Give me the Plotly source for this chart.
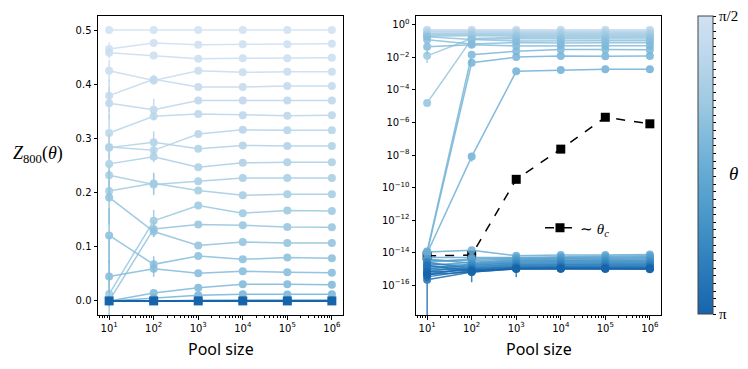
import numpy as np
import plotly.express as px
import plotly.graph_objects as go
from plotly.subplots import make_subplots
from plotly.colors import sample_colorscale

pool_sizes = [1e1, 1e2, 1e3, 1e4, 1e5, 1e6]
pool_labels = ["10<sup>1</sup>", "10<sup>2</sup>", "10<sup>3</sup>",
               "10<sup>4</sup>", "10<sup>5</sup>", "10<sup>6</sup>"]

n_theta = 40
theta = np.linspace(np.pi / 2, np.pi, n_theta)

# Z_800 for the 10 smallest angles
z_upper = [
    [0.500, 0.500, 0.500, 0.500, 0.500, 0.500],
    [0.465, 0.476, 0.473, 0.474, 0.474, 0.475],
    [0.458, 0.453, 0.447, 0.448, 0.448, 0.449],
    [0.425, 0.407, 0.425, 0.422, 0.423, 0.423],
    [0.379, 0.409, 0.395, 0.395, 0.397, 0.397],
    [0.365, 0.353, 0.370, 0.370, 0.370, 0.370],
    [0.310, 0.341, 0.345, 0.343, 0.342, 0.343],
    [0.284, 0.278, 0.308, 0.316, 0.315, 0.315],
    [0.283, 0.293, 0.281, 0.287, 0.286, 0.286],
    [0.253, 0.266, 0.247, 0.255, 0.256, 0.256],
]

# next 10 angles, still above theta_c
z_middle = [
    [0.232, 0.215, 0.221, 0.227, 0.227, 0.227],
    [0.203, 0.217, 0.204, 0.195, 0.197, 0.197],
    [0.0126, 0.148, 0.176, 0.162, 0.167, 0.166],
    [1.6e-5, 0.133, 0.141, 0.1395, 0.1365, 0.136],
    [0.191, 0.128, 0.1025, 0.109, 0.107, 0.107],
    [0.121, 0.0675, 0.083, 0.0767, 0.080, 0.079],
    [0.045, 0.0595, 0.051, 0.0546, 0.053, 0.052],
    [1.2e-14, 0.0147, 0.0245, 0.0306, 0.0306, 0.030],
    [1.0e-14, 0.0048, 0.0105, 0.0125, 0.012, 0.0125],
    [9.0e-15, 8.0e-9, 0.0014, 0.0017, 0.0019, 0.0019],
]

# angles past theta_c: numerically zero
z_floor = [
    [1.1e-14, 1.4e-14, 6.3e-15, 7.1e-15, 7.1e-15, 7.6e-15],
    [5.0e-15, 5.0e-15, 5.0e-15, 5.6e-15, 6.0e-15, 6.3e-15],
    [2.5e-15, 4.0e-15, 4.5e-15, 5.0e-15, 5.2e-15, 5.6e-15],
    [3.2e-15, 3.2e-15, 4.0e-15, 4.5e-15, 4.5e-15, 5.0e-15],
    [1.6e-15, 2.5e-15, 3.5e-15, 4.0e-15, 4.0e-15, 4.2e-15],
    [4.0e-15, 2.2e-15, 3.2e-15, 3.5e-15, 3.5e-15, 3.5e-15],
    [1.0e-15, 2.0e-15, 2.8e-15, 3.2e-15, 3.2e-15, 3.2e-15],
    [2.0e-15, 1.6e-15, 2.5e-15, 2.8e-15, 2.8e-15, 2.8e-15],
    [6.3e-16, 1.8e-15, 2.2e-15, 2.5e-15, 2.5e-15, 2.5e-15],
    [1.3e-15, 1.4e-15, 2.0e-15, 2.2e-15, 2.2e-15, 2.2e-15],
    [4.0e-16, 1.3e-15, 1.8e-15, 2.0e-15, 2.0e-15, 2.0e-15],
    [7.9e-16, 1.1e-15, 1.6e-15, 1.8e-15, 1.8e-15, 1.8e-15],
    [2.5e-15, 1.0e-15, 1.4e-15, 1.6e-15, 1.6e-15, 1.6e-15],
    [5.0e-16, 1.0e-15, 1.3e-15, 1.4e-15, 1.4e-15, 1.4e-15],
    [1.0e-15, 8.9e-16, 1.3e-15, 1.3e-15, 1.3e-15, 1.3e-15],
    [3.2e-16, 7.9e-16, 1.1e-15, 1.3e-15, 1.2e-15, 1.2e-15],
    [1.6e-15, 7.9e-16, 1.1e-15, 1.1e-15, 1.1e-15, 1.1e-15],
    [2.1e-16, 6.3e-16, 1.0e-15, 1.1e-15, 1.05e-15, 1.05e-15],
    [6.3e-16, 7.9e-16, 1.0e-15, 1.0e-15, 1.0e-15, 1.0e-15],
    [4.5e-16, 6.3e-16, 1.0e-15, 1.0e-15, 1.0e-15, 9.5e-16],
]

# standard errors at pool sizes 10, 100, 1000 (one per angle)
err_10 = [0, 0.012, 0.01, 0.02, 0.03, 0.03, 0.035, 0.02, 0.025, 0.02,
          0.02, 0.02, 0.008, 0.12, 0.05, 0.05, 0.03, 0.01, 0.005, 0,
          0, 0, 0, 0, 0, 0, 0, 0, 2e-16, 0,
          1.5e-16, 0, 0, 0, 0, 1.5e-16, 0, 2.09e-16, 0, 0]
err_100 = [0, 0.004, 0.004, 0.008, 0.008, 0.02, 0.006, 0.01, 0.02, 0.01,
           0.02, 0.02, 0.02, 0.015, 0.01, 0.015, 0.015, 0.005, 0.002, 4e-9,
           0, 0, 0, 0, 0, 0, 0, 0, 0, 0,
           0, 0, 0, 0, 0, 0, 0, 4.8e-16, 0, 0]
err_1000 = [0, 0, 0, 0, 0, 0, 0, 0, 0, 0,
            0, 0, 0.004, 0, 0, 0, 0, 0.003, 0.002, 0,
            0, 0, 0, 0, 0, 0, 0, 0, 0, 0,
            0, 0, 0, 0, 0, 8e-16, 0, 0, 0, 0]

z_theta_c = [6.3e-15, 7.0e-15, 3.2e-10, 2.3e-8, 2.1e-6, 8.3e-7]
err_theta_c = [1e-15, 1e-15, 0, 0, 0, 0]

z_all = z_upper + z_middle + z_floor
err_all = [[err_10[i], err_100[i], err_1000[i], 0, 0, 0] for i in range(n_theta)]

blues = px.colors.sequential.Blues
shades = sample_colorscale(blues, [0.2 + 0.6 * i / (n_theta - 1) for i in range(n_theta)])
cbar_scale = [[k / 10, c] for k, c in
              enumerate(sample_colorscale(blues, [0.8 - 0.06 * k for k in range(11)]))]

W, H = 748, 369
fig = make_subplots(rows=1, cols=2)
fig.update_layout(xaxis=dict(domain=[98 / W, 343 / W]),
                  xaxis2=dict(domain=[416 / W, 661 / W]),
                  yaxis=dict(domain=[1 - 315 / H, 1 - 16 / H]),
                  yaxis2=dict(domain=[1 - 315 / H, 1 - 16 / H]))

# theta_c reference curve in the log panel (drawn underneath)
fig.add_trace(go.Scatter(
    x=pool_sizes, y=z_theta_c, mode="lines+markers", name="∼ <i>θ<sub>c</sub></i>",
    line=dict(color="black", width=1.5, dash="dash"),
    marker=dict(symbol="square", size=9, color="black"),
    error_y=dict(type="data", array=err_theta_c, color="black", thickness=1.5, width=0),
    showlegend=True), row=1, col=2)

for i in range(n_theta):
    vals = z_all[i]
    errs = err_all[i]
    log_errs = [e if v - e > 0 else 0 for v, e in zip(vals, errs)]
    for col, ee in ((1, errs), (2, log_errs)):
        fig.add_trace(go.Scatter(
            x=pool_sizes, y=vals, mode="lines+markers", opacity=0.85,
            line=dict(color=shades[i], width=1.5),
            marker=dict(color=shades[i], size=8),
            error_y=dict(type="data", array=ee, color=shades[i], thickness=1.5, width=0),
            showlegend=False, hoverinfo="skip"), row=1, col=col)

# theta_c curve on the linear panel sits at zero
fig.add_trace(go.Scatter(
    x=pool_sizes, y=z_theta_c, mode="lines+markers",
    line=dict(color=shades[-1], width=1.5),
    marker=dict(symbol="square", size=9, color=shades[-1]),
    showlegend=False), row=1, col=1)

# colour bar for theta
fig.add_trace(go.Scatter(
    x=[None], y=[None], mode="markers", showlegend=False,
    marker=dict(color=[-np.pi], colorscale=cbar_scale, cmin=-np.pi, cmax=-np.pi / 2,
                showscale=True,
                colorbar=dict(thickness=15, thicknessmode="pixels",
                              len=298 / H, lenmode="fraction", xpad=0, ypad=0,
                              x=698 / W, xanchor="left", y=1 - 165 / H, yanchor="middle",
                              outlinewidth=1, outlinecolor="#444",
                              tickvals=[-t for t in theta],
                              ticktext=["π/2"] + [""] * (n_theta - 2) + ["π"],
                              ticks="outside", ticklen=3, tickcolor="black",
                              tickfont=dict(family="Liberation Serif", size=15, color="black")))),
    row=1, col=1)

minor_x = [k * 10 ** p for p in range(0, 7) for k in range(2, 10)
           if 0.75 < np.log10(k * 10 ** p) < 6.25]
axis_style = dict(showline=True, linecolor="black", linewidth=1, mirror=True,
                  ticks="outside", ticklen=3.5, tickcolor="black", showgrid=False,
                  zeroline=False, automargin=False,
                  tickfont=dict(family="DejaVu Sans", size=10, color="black"))

fig.update_xaxes(type="log", range=[0.75, 6.25], tickvals=pool_sizes, ticktext=pool_labels,
                 minor=dict(tickmode="array", tickvals=minor_x, ticks="outside",
                            ticklen=2, tickcolor="black", showgrid=False),
                 **axis_style)
fig.update_yaxes(range=[-0.026, 0.526], tickvals=[0, 0.1, 0.2, 0.3, 0.4, 0.5],
                 tickformat=".1f", row=1, col=1, **axis_style)
fig.update_yaxes(type="log", range=[-17.84, 0.55],
                 tickvals=[10.0 ** -p for p in range(0, 17, 2)],
                 ticktext=["10<sup>%s</sup>" % ("0" if p == 0 else "−%d" % p) for p in range(0, 17, 2)],
                 row=1, col=2, **axis_style)

fig.update_layout(
    width=W, height=H, margin=dict(l=0, r=0, t=0, b=0, autoexpand=False),
    plot_bgcolor="white", paper_bgcolor="white",
    legend=dict(x=540 / W, y=1 - 228 / H, xanchor="left", yanchor="middle",
                bgcolor="rgba(0,0,0,0)",
                font=dict(family="Liberation Serif", size=15, color="black")),
)


def add_label(text, px_x, px_y, font):
    fig.add_annotation(text=text, x=px_x / W, y=1 - px_y / H, xref="paper", yref="paper",
                       xanchor="center", yanchor="middle", showarrow=False, font=font)


label_font = dict(family="Noto Sans", size=16, color="black")
add_label("Pool size", 220.5, 349, label_font)
add_label("Pool size", 538.5, 349, label_font)
add_label("<i>Z</i><sub>800</sub>(<i>θ</i>)", 38, 155,
          dict(family="Liberation Serif", size=18, color="black"))
add_label("<i>θ</i>", 733, 173, dict(family="Liberation Serif", size=19, color="black"))

fig.write_html("out.html", config={"displayModeBar": False},
               post_script="document.body.style.margin = '0px';")
